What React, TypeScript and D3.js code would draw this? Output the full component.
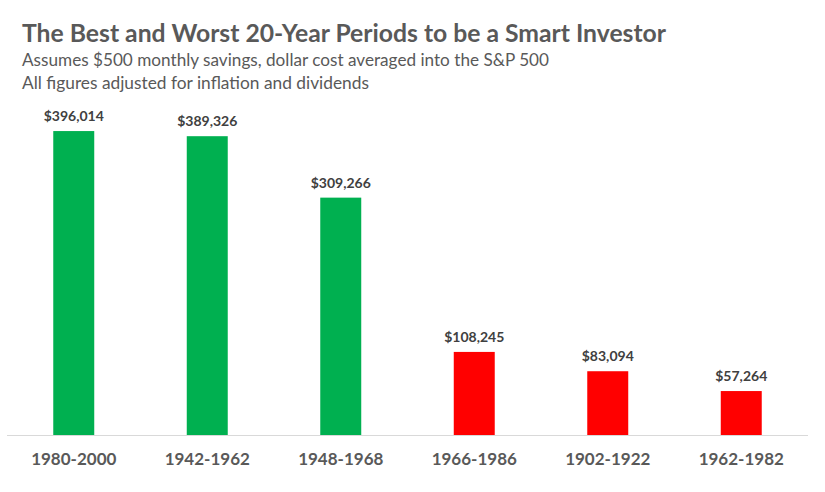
import React, { useEffect } from "react";
import * as d3 from "d3";

const categories = ["1980-2000", "1942-1962", "1948-1968", "1966-1986", "1902-1922", "1962-1982"];
const values = [396014, 389326, 309266, 108245, 83094, 57264];
const barGroups = ["best", "best", "best", "worst", "worst", "worst"];
const title = "The Best and Worst 20-Year Periods to be a Smart Investor";
const subtitle1 = "Assumes $500 monthly savings, dollar cost averaged into the S&P 500";
const subtitle2 = "All figures adjusted for inflation and dividends";

const W = 825;
const H = 492;
const FONT = "Lato, 'Open Sans', sans-serif";

export default function App() {
  useEffect(() => {
    document.body.style.margin = "0";
  }, []);

  const x = d3
    .scaleBand<string>()
    .domain(categories)
    .range([7, 808])
    .paddingInner(0.693)
    .paddingOuter(0.3465);
  const y = d3.scaleLinear().domain([0, 400000]).range([435, 128]);
  const color = d3.scaleOrdinal<string, string>().domain(["best", "worst"]).range(["#00b050", "#ff0000"]);
  const fmt = d3.format("$,");

  return (
    <svg width={W} height={H} style={{ display: "block", background: "#fff" }} fontFamily={FONT}>
      <text x={22} y={42} fontSize={24} fontWeight={700} fill="#595959" textLength={644} lengthAdjust="spacingAndGlyphs">
        {title}
      </text>
      <text x={22} y={66} fontSize={17} fill="#595959" textLength={527} lengthAdjust="spacingAndGlyphs">
        {subtitle1}
      </text>
      <text x={22} y={89} fontSize={17} fill="#595959" textLength={347} lengthAdjust="spacingAndGlyphs">
        {subtitle2}
      </text>
      {categories.map((c, i) => (
        <rect
          key={c}
          x={x(c)}
          y={y(values[i])}
          width={x.bandwidth()}
          height={y(0) - y(values[i])}
          fill={color(barGroups[i])}
        />
      ))}
      {categories.map((c, i) => (
        <text
          key={"v" + c}
          x={(x(c) as number) + x.bandwidth() / 2}
          y={y(values[i]) - 10}
          textAnchor="middle"
          fontSize={14}
          fontWeight={700}
          fill="#404040"
        >
          {fmt(values[i])}
        </text>
      ))}
      <line x1={7} x2={808} y1={y(0) + 0.5} y2={y(0) + 0.5} stroke="#d9d9d9" strokeWidth={1} />
      {categories.map((c) => (
        <text
          key={"l" + c}
          x={(x(c) as number) + x.bandwidth() / 2}
          y={465}
          textAnchor="middle"
          fontSize={17}
          fontWeight={700}
          fill="#595959"
        >
          {c}
        </text>
      ))}
    </svg>
  );
}
